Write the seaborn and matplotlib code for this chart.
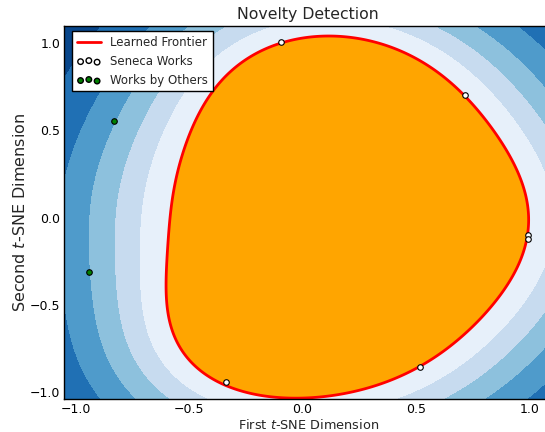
import numpy as np
import pandas as pd
import matplotlib
matplotlib.use("Agg")
import matplotlib.pyplot as plt
from matplotlib.lines import Line2D
from matplotlib.path import Path
import seaborn as sns

# Seneca works
seneca_x = [-0.093, 0.718, 0.996, 0.996, 0.520, -0.339]
seneca_y = [1.006, 0.702, -0.100, -0.123, -0.856, -0.941]
# Works by others
other_x = [-0.833, -0.943]
other_y = [0.553, -0.311]
# Learned frontier
front_x = [0.088, -0.093, -0.273, -0.405, -0.515, -0.581, -0.599, -0.590, -0.537, -0.449,
           -0.339, -0.185, -0.009, 0.211, 0.520, 0.740, 0.894, 0.982, 1.000, 0.969,
           0.872, 0.718, 0.520, 0.300]
front_y = [1.040, 1.006, 0.891, 0.673, 0.387, 0.101, -0.243, -0.529, -0.758, -0.884,
           -0.941, -1.005, -1.027, -1.005, -0.856, -0.644, -0.386, -0.186, -0.013, 0.215,
           0.444, 0.702, 0.903, 1.017]

sns.set_style("ticks", {"xtick.direction": "in", "ytick.direction": "in"})
plt.rcParams["font.family"] = ["DejaVu Sans"]
plt.rcParams["mathtext.fontset"] = "dejavusans"

# RBF one-class style decision function, fitted so that its zero level
# passes through the traced frontier
gamma = 2.5
F = np.c_[front_x, front_y]
ctr = F.mean(0)
CEN = ctr + 0.8 * (F - ctr)

def kern(P):
    return np.exp(-gamma * ((P[:, None, :] - CEN[None, :, :]) ** 2).sum(-1))

KF = kern(F)
alpha = np.ones(len(F)) / len(F)
for _ in range(1500):
    v = KF @ alpha
    alpha *= (v.mean() / v) ** 0.5
    alpha /= alpha.sum()
rho = (KF @ alpha).mean()

xx, yy = np.meshgrid(np.linspace(-1.6, 1.6, 600), np.linspace(-1.6, 1.6, 600))
P = np.c_[xx.ravel(), yy.ravel()]
Z = kern(P) @ alpha - rho
core = Path(ctr + 0.6 * (F - ctr)).contains_points(P)
Z[core] = np.maximum(Z[core], 0.02 * rho)
Z = Z.reshape(xx.shape)

fig = plt.figure(figsize=(5.45, 4.32), dpi=100)
ax = fig.add_axes([0.118, 0.0757, 0.895, 0.865])
ax.contourf(xx, yy, Z, levels=np.linspace(Z.min(), 0, 7), cmap="Blues_r")
ax.contourf(xx, yy, Z, levels=[0, Z.max()], colors="orange")
ax.contour(xx, yy, Z, levels=[0], colors="red", linewidths=2)

sen = pd.DataFrame({"x": seneca_x, "y": seneca_y})
oth = pd.DataFrame({"x": other_x, "y": other_y})
sns.scatterplot(data=sen, x="x", y="y", ax=ax, color="white", edgecolor="black",
                s=16, linewidth=0.8, zorder=5)
sns.scatterplot(data=oth, x="x", y="y", ax=ax, color="green", edgecolor="black",
                s=16, linewidth=0.8, zorder=5)

ax.set_xlim(-1.05, 1.10)
ax.set_ylim(-1.04, 1.10)
ax.set_xticks([-1.0, -0.5, 0.0, 0.5, 1.0])
ax.set_yticks([-1.0, -0.5, 0.0, 0.5, 1.0])
ax.tick_params(direction="in", top=True, right=True, length=4, width=1,
               labelsize=9, colors="black", pad=3)
for sp in ax.spines.values():
    sp.set_color("black"); sp.set_linewidth(1)
ax.set_title("Novelty Detection", fontsize=11.3, pad=5)
ax.set_xlabel(r"First $t$-SNE Dimension", fontsize=9.3, labelpad=1)
ax.set_ylabel(r"Second $t$-SNE Dimension", fontsize=11.5, labelpad=1)

h_line = Line2D([], [], color="red", lw=2)
h_sen = ax.scatter([], [], c="white", edgecolors="black", s=16)
h_oth = ax.scatter([], [], c="green", edgecolors="black", s=16)
leg = ax.legend([h_line, h_sen, h_oth], ["Learned Frontier", "Seneca Works", "Works by Others"],
                loc="upper left", bbox_to_anchor=(8 / 488, 1 - 5.5 / 374), borderaxespad=0,
                fontsize=8.5, scatterpoints=3, scatteryoffsets=[0.375, 0.5, 0.3125],
                fancybox=False, framealpha=1, edgecolor="black", handlelength=2)
leg.get_frame().set_linewidth(1)

fig.savefig("out.png", dpi=100)
